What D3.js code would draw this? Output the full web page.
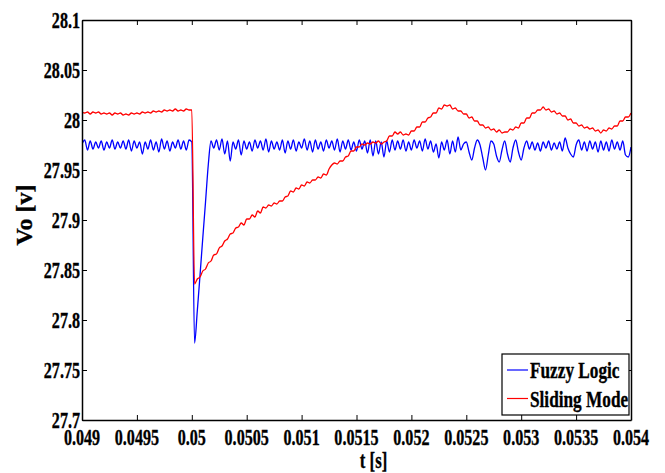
<!DOCTYPE html>
<html>
<head>
<meta charset="utf-8">
<script src="https://cdn.jsdelivr.net/npm/d3@7"></script>
<style>
  body { margin: 0; background: #fff; }
  svg text { font-family: "Liberation Serif", "Times New Roman", serif; font-weight: bold; fill: #000; stroke: #000; stroke-width: 0.35px; }
</style>
</head>
<body>
<div id="chart"></div>
<script>
var w = 665, h = 473;
var plotLeft = 82, plotRight = 631, plotTop = 20, plotBottom = 420;

// Sampled signals: first sample at tStart, one sample every tStep seconds
var tStart = 0.049, tStep = 0.000025;

var fuzzyLogic = [
  27.976, 27.980, 27.970, 27.979, 27.971, 27.978, 27.972, 27.979, 27.970, 27.978,
  27.972, 27.980, 27.971, 27.978, 27.972, 27.979, 27.971, 27.980, 27.969, 27.979,
  27.972, 27.978, 27.966, 27.978, 27.971, 27.980, 27.970, 27.978, 27.968, 27.981,
  27.971, 27.979, 27.969, 27.978, 27.972, 27.980, 27.971, 27.979, 27.970, 27.980,
  27.978, 27.777, 27.809, 27.845, 27.882, 27.918, 27.955, 27.979, 27.972, 27.980,
  27.970, 27.981, 27.966, 27.979, 27.959, 27.978, 27.971, 27.980, 27.965, 27.979,
  27.971, 27.978, 27.969, 27.980, 27.972, 27.979, 27.970, 27.981, 27.968, 27.979,
  27.971, 27.978, 27.970, 27.980, 27.967, 27.979, 27.971, 27.980, 27.969, 27.978,
  27.972, 27.981, 27.970, 27.979, 27.968, 27.980, 27.971, 27.978, 27.969, 27.980,
  27.972, 27.979, 27.970, 27.981, 27.968, 27.979, 27.971, 27.980, 27.970, 27.978,
  27.969, 27.980, 27.971, 27.979, 27.967, 27.980, 27.964, 27.979, 27.966, 27.978,
  27.963, 27.979, 27.968, 27.980, 27.970, 27.979, 27.971, 27.980, 27.969, 27.978,
  27.970, 27.980, 27.972, 27.979, 27.969, 27.981, 27.971, 27.979, 27.968, 27.976,
  27.962, 27.978, 27.970, 27.980, 27.966, 27.979, 27.968, 27.983, 27.970, 27.976,
  27.978, 27.968, 27.960, 27.972, 27.980, 27.975, 27.962, 27.950, 27.965, 27.979,
  27.976, 27.964, 27.958, 27.970, 27.979, 27.966, 27.958, 27.972, 27.980, 27.968,
  27.960, 27.972, 27.979, 27.971, 27.978, 27.970, 27.977, 27.969, 27.978, 27.972,
  27.979, 27.970, 27.977, 27.971, 27.978, 27.969, 27.982, 27.972, 27.966, 27.963,
  27.975, 27.980, 27.970, 27.978, 27.969, 27.979, 27.971, 27.978, 27.968, 27.979,
  27.970, 27.978, 27.969, 27.980, 27.971, 27.978, 27.970, 27.979, 27.965, 27.963,
  27.973
];

var slidingMode = [
  28.008, 28.007, 28.008, 28.006, 28.008, 28.007, 28.008, 28.006, 28.007, 28.006,
  28.007, 28.005, 28.007, 28.006, 28.007, 28.005, 28.006, 28.005, 28.007, 28.006,
  28.007, 28.006, 28.008, 28.007, 28.008, 28.007, 28.009, 28.008, 28.009, 28.008,
  28.010, 28.009, 28.010, 28.009, 28.011, 28.009, 28.010, 28.009, 28.011, 28.010,
  28.010, 27.836, 27.841, 27.843, 27.849, 27.851, 27.857, 27.859, 27.865, 27.866,
  27.872, 27.874, 27.879, 27.881, 27.886, 27.887, 27.892, 27.893, 27.897, 27.895,
  27.901, 27.901, 27.905, 27.903, 27.909, 27.907, 27.913, 27.912, 27.915, 27.914,
  27.917, 27.916, 27.919, 27.919, 27.923, 27.924, 27.929, 27.928, 27.932, 27.931,
  27.935, 27.934, 27.938, 27.937, 27.940, 27.940, 27.943, 27.942, 27.946, 27.945,
  27.951, 27.955, 27.957, 27.956, 27.959, 27.959, 27.963, 27.964, 27.969, 27.969,
  27.973, 27.973, 27.976, 27.975, 27.977, 27.976, 27.978, 27.977, 27.979, 27.976,
  27.978, 27.979, 27.984, 27.984, 27.988, 27.986, 27.988, 27.985, 27.986, 27.985,
  27.989, 27.989, 27.993, 27.993, 27.998, 27.998, 28.002, 28.003, 28.007, 28.007,
  28.012, 28.011, 28.015, 28.014, 28.015, 28.011, 28.012, 28.009, 28.009, 28.006,
  28.006, 28.002, 28.003, 27.999, 27.999, 27.995, 27.995, 27.992, 27.993, 27.990,
  27.991, 27.988, 27.990, 27.987, 27.988, 27.988, 27.991, 27.990, 27.993, 27.992,
  27.997, 27.997, 28.002, 28.002, 28.007, 28.007, 28.010, 28.010, 28.013, 28.010,
  28.011, 28.008, 28.009, 28.006, 28.007, 28.004, 28.004, 28.000, 28.001, 27.997,
  27.997, 27.994, 27.995, 27.992, 27.993, 27.991, 27.992, 27.989, 27.990, 27.987,
  27.990, 27.989, 27.992, 27.991, 27.994, 27.994, 27.999, 27.999, 28.003, 28.003,
  28.007
];

var xTicks = [0.049, 0.0495, 0.05, 0.0505, 0.051, 0.0515, 0.052, 0.0525, 0.053, 0.0535, 0.054];
var xTickLabels = ["0.049", "0.0495", "0.05", "0.0505", "0.051", "0.0515", "0.052", "0.0525", "0.053", "0.0535", "0.054"];
var yTicks = [27.7, 27.75, 27.8, 27.85, 27.9, 27.95, 28, 28.05, 28.1];
var yTickLabels = ["27.7", "27.75", "27.8", "27.85", "27.9", "27.95", "28", "28.05", "28.1"];
var seriesNames = ["Fuzzy Logic", "Sliding Mode"];
var seriesData = [fuzzyLogic, slidingMode];
var seriesColors = ["#0000ff", "#ff0000"];

// Scales
var xScale = d3.scaleLinear()
  .domain([xTicks[0], xTicks[xTicks.length - 1]])
  .range([plotLeft, plotRight]);

var yScale = d3.scaleLinear()
  .domain([yTicks[0], yTicks[yTicks.length - 1]])
  .range([plotBottom, plotTop]);

var svg = d3.select("#chart")
  .append("svg")
  .attr("width", w)
  .attr("height", h);

svg.append("rect")
  .attr("width", w)
  .attr("height", h)
  .attr("fill", "#fff");

// Clip the traces to the axes box
svg.append("clipPath")
  .attr("id", "plot-area")
  .append("rect")
  .attr("x", plotLeft)
  .attr("y", plotTop)
  .attr("width", plotRight - plotLeft)
  .attr("height", plotBottom - plotTop);

var line = d3.line()
  .curve(d3.curveMonotoneX)
  .x(function(d, i) { return xScale(tStart + i * tStep); })
  .y(function(d) { return yScale(d); });

svg.append("g")
  .attr("clip-path", "url(#plot-area)")
  .selectAll("path")
  .data(seriesData)
  .enter()
  .append("path")
  .attr("d", line)
  .attr("fill", "none")
  .attr("stroke", function(d, i) { return seriesColors[i]; })
  .attr("stroke-width", 1.3);

// Axes box, MATLAB style ticks pointing inwards
function styleAxis(g) {
  g.selectAll("text").remove();
  g.select(".domain").attr("stroke", "#000").attr("stroke-width", 1.5);
  g.selectAll(".tick line").attr("stroke", "#000").attr("stroke-width", 1);
}

svg.append("g")
  .attr("transform", "translate(0," + plotBottom + ")")
  .call(d3.axisBottom(xScale).tickValues(xTicks).tickSizeInner(-5).tickSizeOuter(0))
  .call(styleAxis);

svg.append("g")
  .attr("transform", "translate(0," + plotTop + ")")
  .call(d3.axisTop(xScale).tickValues(xTicks).tickSizeInner(-5).tickSizeOuter(0))
  .call(styleAxis);

svg.append("g")
  .attr("transform", "translate(" + plotLeft + ",0)")
  .call(d3.axisLeft(yScale).tickValues(yTicks).tickSizeInner(-5).tickSizeOuter(0))
  .call(styleAxis);

svg.append("g")
  .attr("transform", "translate(" + plotRight + ",0)")
  .call(d3.axisRight(yScale).tickValues(yTicks).tickSizeInner(-5).tickSizeOuter(0))
  .call(styleAxis);

// Tick labels (tall, narrow bold serif, like the original figure)
svg.append("g")
  .selectAll("text")
  .data(yTicks)
  .enter()
  .append("text")
  .attr("transform", function(d) {
    return "translate(" + (plotLeft - 2) + "," + (yScale(d) + 7.5) + ") scale(0.7,1)";
  })
  .attr("text-anchor", "end")
  .attr("font-size", 23)
  .text(function(d, i) { return yTickLabels[i]; });

svg.append("g")
  .selectAll("text")
  .data(xTicks)
  .enter()
  .append("text")
  .attr("transform", function(d) {
    return "translate(" + xScale(d) + "," + (plotBottom + 25) + ") scale(0.7,1)";
  })
  .attr("text-anchor", "middle")
  .attr("font-size", 23)
  .text(function(d, i) { return xTickLabels[i]; });

// Axis titles
svg.append("text")
  .attr("transform", "translate(" + ((plotLeft + plotRight) / 2 + 17) + "," + (h - 5) + ") scale(0.7,1)")
  .attr("text-anchor", "middle")
  .attr("font-size", 24)
  .text("t [s]");

svg.append("text")
  .attr("transform", "translate(32," + ((plotTop + plotBottom) / 2 - 5) + ") rotate(-90)")
  .attr("text-anchor", "middle")
  .attr("font-size", 24)
  .text("Vo [v]");

// Legend
var legend = svg.append("g")
  .attr("transform", "translate(502,354)");

legend.append("rect")
  .attr("width", 127)
  .attr("height", 61)
  .attr("fill", "#fff")
  .attr("stroke", "#000")
  .attr("stroke-width", 1.2);

var entry = legend.selectAll(".entry")
  .data(seriesNames)
  .enter()
  .append("g")
  .attr("class", "entry")
  .attr("transform", function(d, i) { return "translate(0," + (16 + i * 28.5) + ")"; });

entry.append("line")
  .attr("x1", 5)
  .attr("x2", 26)
  .attr("stroke", function(d, i) { return seriesColors[i]; })
  .attr("stroke-width", 1.2);

entry.append("text")
  .attr("transform", "translate(28,8) scale(0.75,1)")
  .attr("font-size", 23)
  .text(function(d) { return d; });
</script>
</body>
</html>
